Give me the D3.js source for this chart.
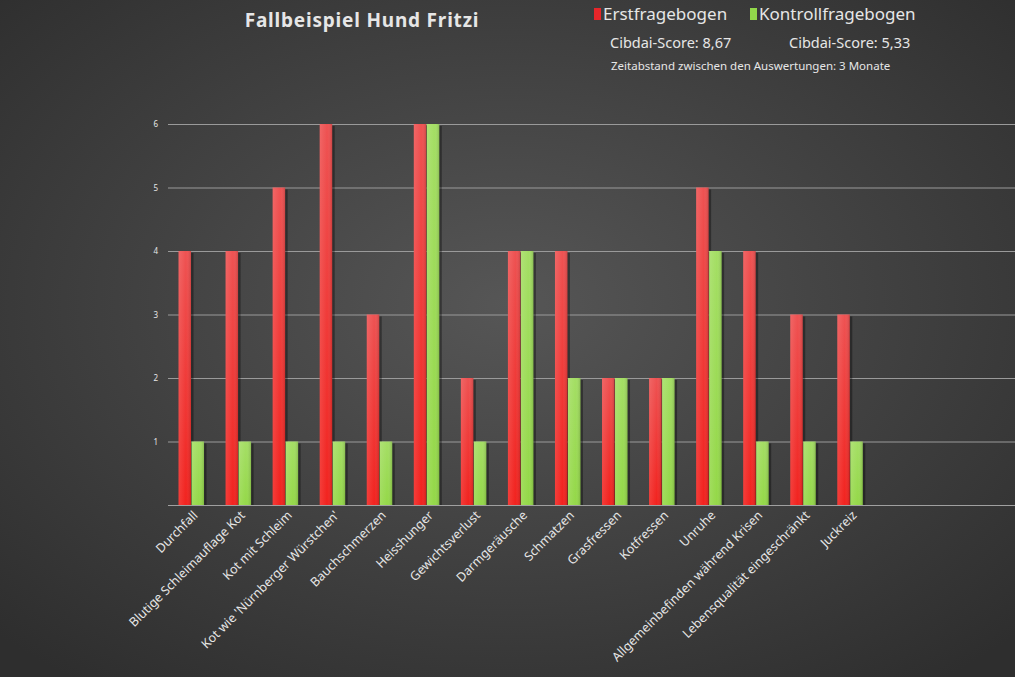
<!DOCTYPE html>
<html lang="de">
<head>
<meta charset="utf-8">
<title>Fallbeispiel Hund Fritzi</title>
<script src="https://d3js.org/d3.v7.min.js"></script>
<style>
  html, body { margin: 0; padding: 0; background: #3a3a3a; }
  #chart text { font-family: "Noto Sans", sans-serif; fill: #e6e6e6; }
</style>
</head>
<body>
<div id="chart"></div>
<script>
"use strict";
// Daten
var kategorien = ["Durchfall", "Blutige Schleimauflage Kot", "Kot mit Schleim",
  "Kot wie 'Nürnberger Würstchen'", "Bauchschmerzen", "Heisshunger", "Gewichtsverlust",
  "Darmgeräusche", "Schmatzen", "Grasfressen", "Kotfressen", "Unruhe",
  "Allgemeinbefinden während Krisen", "Lebensqualität eingeschränkt", "Juckreiz"];
var erstfragebogen = [4, 4, 5, 6, 3, 6, 2, 4, 4, 2, 2, 5, 4, 3, 3];
var kontrollfragebogen = [1, 1, 1, 1, 1, 6, 1, 4, 2, 2, 2, 4, 1, 1, 1];
var serien = ["Erstfragebogen", "Kontrollfragebogen"];
var scores = ["Cibdai-Score: 8,67", "Cibdai-Score: 5,33"];
var yTicks = [1, 2, 3, 4, 5, 6];
var anzahlSlots = 18; // Achse reicht über leere Kategorien bis zum Rand

var breite = 1015, hoehe = 677;
var margin = {top: 124, right: 0, bottom: 172, left: 168};
var breiteVis = breite - margin.left - margin.right,
    hoeheVis = hoehe - margin.top - margin.bottom;

var svg = d3.select("#chart").append("svg")
  .attr("width", breite).attr("height", hoehe);

var defs = svg.append("defs");
var bg = defs.append("radialGradient").attr("id", "bg")
  .attr("cx", "50%").attr("cy", "45%").attr("r", "70%");
bg.append("stop").attr("offset", "0%").attr("stop-color", "#565656");
bg.append("stop").attr("offset", "100%").attr("stop-color", "#2e2e2e");

function balkenVerlauf(id, hell, dunkel) {
  var g = defs.append("linearGradient").attr("id", id)
    .attr("x1", 0).attr("y1", 0).attr("x2", 0).attr("y2", 1);
  g.append("stop").attr("offset", "0%").attr("stop-color", hell);
  g.append("stop").attr("offset", "100%").attr("stop-color", dunkel);
}
balkenVerlauf("rot", "#ee5252", "#f2221e");
balkenVerlauf("gruen", "#a4de64", "#94d848");
var glanz = defs.append("linearGradient").attr("id", "glanz")
  .attr("x1", 0).attr("y1", 0).attr("x2", 1).attr("y2", 0);
glanz.append("stop").attr("offset", "0%").attr("stop-color", "#fff").attr("stop-opacity", 0.12);
glanz.append("stop").attr("offset", "60%").attr("stop-color", "#fff").attr("stop-opacity", 0);
glanz.append("stop").attr("offset", "100%").attr("stop-color", "#000").attr("stop-opacity", 0.15);

svg.append("rect").attr("width", breite).attr("height", hoehe).attr("fill", "url(#bg)");

var grafico = svg.append("g")
  .attr("transform", "translate(" + margin.left + "," + margin.top + ")");

// Skalen
var x = d3.scaleBand().domain(d3.range(anzahlSlots)).range([0, breiteVis]);
var xSerie = d3.scaleBand().domain(serien).range([0, 26]);
var versatz = (x.bandwidth() - 26) / 2;
var y = d3.scaleLinear().domain([0, 6]).range([hoeheVis, 0]);
var farben = {"Erstfragebogen": "url(#rot)", "Kontrollfragebogen": "url(#gruen)"};
var legendeFarbe = {"Erstfragebogen": "#e8262a", "Kontrollfragebogen": "#92d84a"};

// Gitter
grafico.append("g").selectAll("line").data(yTicks).join("line")
  .attr("x1", 0).attr("x2", breiteVis)
  .attr("y1", d => y(d) + 0.5).attr("y2", d => y(d) + 0.5)
  .attr("stroke", "#9a9a9a").attr("stroke-width", 1);
grafico.append("line")
  .attr("x1", 0).attr("x2", breiteVis)
  .attr("y1", hoeheVis + 0.5).attr("y2", hoeheVis + 0.5)
  .attr("stroke", "#a0a0a0");

// Balken
var daten = kategorien.map((k, i) => ({
  i: i,
  werte: [{serie: serien[0], wert: erstfragebogen[i]}, {serie: serien[1], wert: kontrollfragebogen[i]}]
}));
var gruppen = grafico.selectAll("g.gruppe").data(daten).join("g")
  .attr("class", "gruppe")
  .attr("transform", d => "translate(" + (x(d.i) + versatz) + ",0)");
gruppen.selectAll("rect.schatten").data(d => d.werte).join("rect")
  .attr("class", "schatten")
  .attr("x", d => xSerie(d.serie) + 2)
  .attr("y", d => y(d.wert) + 2)
  .attr("width", xSerie.bandwidth())
  .attr("height", d => hoeheVis - y(d.wert) - 2)
  .attr("fill", "#000").attr("opacity", 0.35);
gruppen.selectAll("rect.balken").data(d => d.werte).join("rect")
  .attr("class", "balken")
  .attr("x", d => xSerie(d.serie))
  .attr("y", d => y(d.wert))
  .attr("width", xSerie.bandwidth() - 0.5)
  .attr("height", d => hoeheVis - y(d.wert))
  .attr("fill", d => farben[d.serie]);
gruppen.selectAll("rect.glanz").data(d => d.werte).join("rect")
  .attr("class", "glanz")
  .attr("x", d => xSerie(d.serie))
  .attr("y", d => y(d.wert))
  .attr("width", xSerie.bandwidth() - 0.5)
  .attr("height", d => hoeheVis - y(d.wert))
  .attr("fill", "url(#glanz)");

// Achsen
var yAchse = grafico.append("g")
  .call(d3.axisLeft(y).tickValues(yTicks).tickSize(0).tickPadding(10).tickFormat(d3.format("d")));
yAchse.select(".domain").remove();
yAchse.selectAll("text").style("font-size", "8px").attr("fill", "#e0e0e0");

var xAchse = grafico.append("g")
  .attr("transform", "translate(0," + hoeheVis + ")")
  .call(d3.axisBottom(x).tickSize(0).tickPadding(0).tickFormat(i => kategorien[i] || ""));
xAchse.select(".domain").remove();
xAchse.selectAll("text")
  .style("font-size", "12.5px")
  .attr("fill", "#e0e0e0")
  .attr("text-anchor", "end")
  .attr("x", 0).attr("y", 0)
  .attr("dx", 0)
  .attr("dy", "0.35em")
  .attr("transform", "translate(4,8) rotate(-45)");

// Titel
svg.append("text").attr("x", 362).attr("y", 27)
  .attr("text-anchor", "middle")
  .style("font-size", "19px").style("font-weight", "bold").style("letter-spacing", "0.8px")
  .text("Fallbeispiel Hund Fritzi");

// Legende
var legX = [594, 750];
var legende = svg.append("g").selectAll("g").data(serien).join("g")
  .attr("transform", (d, i) => "translate(" + legX[i] + ",0)");
legende.append("rect").attr("x", 0).attr("y", 8).attr("width", 7).attr("height", 12)
  .attr("fill", d => legendeFarbe[d]);
legende.append("text").attr("x", 9).attr("y", 20)
  .style("font-size", "17px").attr("fill", "#e8e8e8")
  .text(d => d);

var scoreX = [610, 789];
svg.append("g").selectAll("text").data(scores).join("text")
  .attr("x", (d, i) => scoreX[i]).attr("y", 48)
  .style("font-size", "14.5px")
  .text(d => d);

svg.append("text").attr("x", 611).attr("y", 70)
  .style("font-size", "11.5px")
  .text("Zeitabstand zwischen den Auswertungen: 3 Monate");
</script>
</body>
</html>
